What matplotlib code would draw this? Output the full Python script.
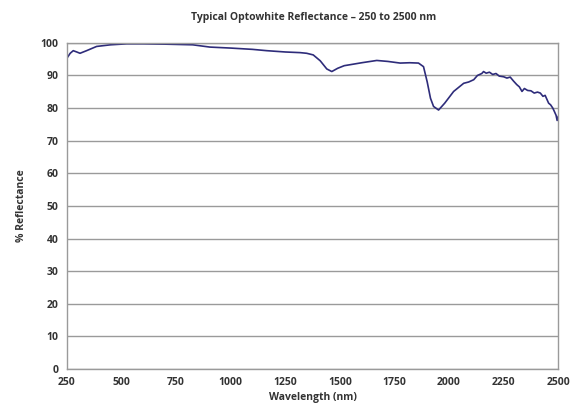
import matplotlib
matplotlib.use("Agg")
import matplotlib.pyplot as plt

wavelength = [250, 265, 279, 295, 310, 340, 386, 450, 524, 600, 700, 826, 905, 1000, 1100, 1165, 1250, 1318, 1348, 1378,
              1410, 1440, 1463, 1490, 1520, 1547, 1600, 1669, 1720, 1776, 1820, 1860, 1883, 1900, 1915, 1929, 1952,
              1980, 2021, 2067, 2090, 2113, 2130, 2150, 2158, 2170, 2185, 2200, 2215, 2230, 2250, 2265, 2280, 2295,
              2310, 2322, 2334, 2345, 2360, 2375, 2390, 2405, 2418, 2430, 2440, 2450, 2456, 2465, 2475, 2482, 2490,
              2495, 2500]
reflectance = [95.3, 96.8, 97.6, 97.2, 96.8, 97.6, 98.9, 99.4, 99.7, 99.7, 99.6, 99.4, 98.7, 98.4, 98.0, 97.6, 97.2, 97.0, 96.8, 96.3,
               94.5, 92.0, 91.2, 92.2, 93.0, 93.3, 93.9, 94.6, 94.3, 93.8, 93.9, 93.8, 92.7, 88.0, 83.0, 80.5, 79.4,
               81.5, 85.1, 87.6, 88.0, 88.7, 90.0, 90.6, 91.2, 90.7, 91.0, 90.3, 90.6, 89.8, 89.6, 89.2, 89.5, 88.3,
               87.2, 86.5, 85.1, 86.0, 85.4, 85.3, 84.6, 84.9, 84.6, 83.6, 83.9, 82.4, 81.5, 81.0, 80.0, 79.0, 77.8,
               76.2, 77.4]

x_ticks = [250, 500, 750, 1000, 1250, 1500, 1750, 2000, 2250, 2500]
y_ticks = [0, 10, 20, 30, 40, 50, 60, 70, 80, 90, 100]

plt.rcParams['font.family'] = ['Open Sans', 'DejaVu Sans']
fig = plt.figure(figsize=(5.87, 4.16), dpi=100)
ax = fig.add_axes([0.114, 0.113, 0.837, 0.784])

ax.plot(wavelength, reflectance, color='#2e2c7a', lw=1.2)
ax.set_xlim(250, 2500)
ax.set_ylim(0, 100)
ax.set_xticks(x_ticks)
ax.set_yticks(y_ticks)
ax.grid(axis='y', color='#9a9a9a', lw=1.0)
ax.set_axisbelow(True)
for s in ax.spines.values():
    s.set_color('#9a9a9a')
    s.set_linewidth(1.0)
ax.tick_params(length=0, labelsize=7.5, colors='#333333', pad=6)
for lab in ax.get_xticklabels() + ax.get_yticklabels():
    lab.set_fontweight('bold')
ax.set_xlabel('Wavelength (nm)', fontsize=7.5, fontweight='bold', color='#333333', labelpad=3)
ax.set_ylabel('% Reflectance', fontsize=7.5, fontweight='bold', color='#333333', labelpad=10)
fig.text(0.535, 0.958, 'Typical Optowhite Reflectance \u2013 250 to 2500 nm', ha='center', va='center',
         fontsize=7.5, fontweight='bold', color='#333333')
fig.savefig('out.png', dpi=100)
